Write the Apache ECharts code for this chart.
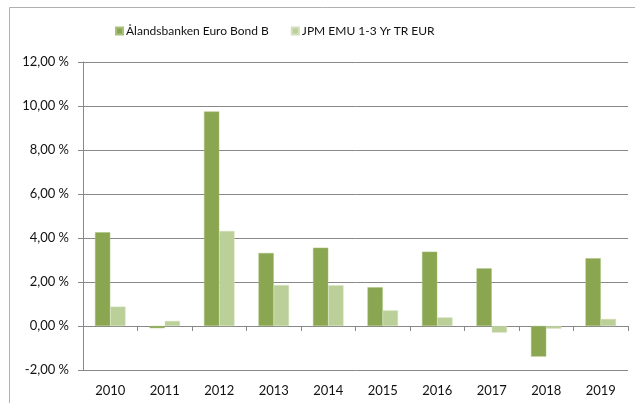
<!DOCTYPE html>
<html><head><meta charset="utf-8">
<script src="https://cdn.jsdelivr.net/npm/echarts@6/dist/echarts.min.js"></script>
<style>html,body{margin:0;padding:0;background:#fff}#c{width:635px;height:403px}</style>
</head><body><div id="c"></div>
<script>
var categories = ['2010','2011','2012','2013','2014','2015','2016','2017','2018','2019'];
var seriesNames = ['Ålandsbanken Euro Bond B','JPM EMU 1-3 Yr TR EUR'];
var fundValues = [4.26, -0.10, 9.75, 3.32, 3.56, 1.76, 3.38, 2.62, -1.39, 3.08];
var indexValues = [0.88, 0.23, 4.32, 1.86, 1.85, 0.71, 0.39, -0.30, -0.12, 0.32];
var yMin = -2, yMax = 12, yStep = 2;

var font = 'Lato, "Open Sans", sans-serif';
var chart = echarts.init(document.getElementById('c'), null, {renderer:'canvas'});
chart.setOption({
  animation:false,
  backgroundColor:'#fff',
  graphic:[{type:'rect',shape:{x:9.5,y:7.5,width:640,height:420},style:{fill:'none',stroke:'#b0b0b0',lineWidth:1},z:-1}],
  legend:{
    left:110, top:20, itemWidth:7, itemHeight:7, itemGap:22, icon:'rect',
    textStyle:{fontFamily:font,fontSize:12,color:'#111',padding:[0,0,0,-2]},
    data:seriesNames
  },
  grid:{left:83,right:7,top:62,bottom:33,containLabel:false},
  xAxis:[{
    type:'category', data:categories, position:'bottom',
    axisLine:{onZero:true,lineStyle:{color:'#888',width:1}},
    axisTick:{show:true,alignWithLabel:false,length:5,lineStyle:{color:'#888'}},
    axisLabel:{show:false}
  },{
    type:'category', data:categories, position:'bottom',
    axisLine:{show:false}, axisTick:{show:false},
    axisLabel:{fontFamily:font,fontSize:13,color:'#111',margin:14}
  }],
  yAxis:{
    type:'value', min:yMin, max:yMax, interval:yStep,
    axisLine:{show:true,lineStyle:{color:'#888'}},
    axisTick:{show:true,length:5,lineStyle:{color:'#888'}},
    splitLine:{lineStyle:{color:'#888',width:1}},
    axisLabel:{fontFamily:font,fontSize:13,color:'#111',margin:14,
      formatter:function(v){return v.toFixed(2).replace('.',',')+' %';}}
  },
  series:[
    {name:seriesNames[0],type:'bar',data:fundValues,barGap:'0%',barCategoryGap:'44%',
     itemStyle:{color:'#8aa650',borderColor:'#a9c07a',borderWidth:0.5}},
    {name:seriesNames[1],type:'bar',data:indexValues,barGap:'0%',barCategoryGap:'44%',
     itemStyle:{color:'#bbcf98',borderColor:'#d3e0bb',borderWidth:0.5}}
  ]
});
</script></body></html>
